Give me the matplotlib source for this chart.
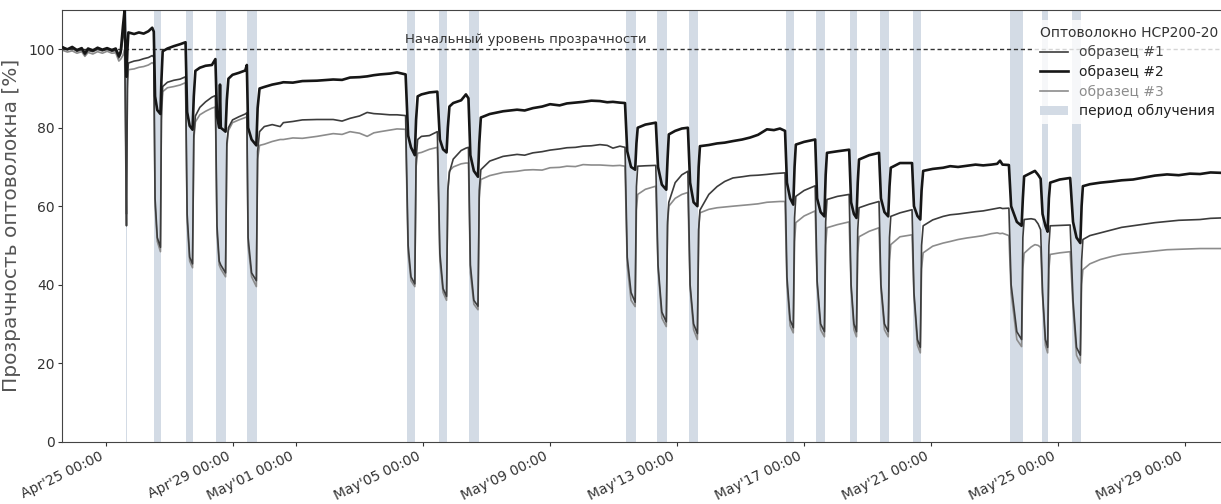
import pandas as pd
import matplotlib
matplotlib.use('Agg')
import matplotlib.pyplot as plt
import matplotlib.dates as mdates
from matplotlib.patches import Patch

# time axis: days from Apr 25 00:00 (same sampling for all samples)
t0 = pd.Timestamp('2021-04-25 00:00')
days = [
    -1.37, -1.20, -1.05, -0.90, -0.75, -0.65, -0.55, -0.40, -0.25, -0.10, 0.05, 0.20, 0.32, 0.42, 0.48,
    0.55, 0.60, 0.64, 0.66, 0.69, 0.72, 0.90, 1.05, 1.20, 1.35, 1.47, 1.52,
    1.56, 1.63, 1.73, 1.76, 1.80, 1.95, 2.15, 2.35, 2.52,
    2.57, 2.65, 2.74, 2.78, 2.83, 2.97, 3.15, 3.35, 3.46,
    3.51, 3.58, 3.605, 3.63, 3.78, 3.82, 3.87, 4.00, 4.20, 4.40, 4.45,
    4.49, 4.60, 4.75, 4.79, 4.85, 5.00, 5.25, 5.50, 5.60, 5.90, 6.20, 6.66, 7.17, 7.45, 7.70, 8.00,
    8.24, 8.45, 8.65, 8.95, 9.18, 9.45,
    9.53, 9.62, 9.74, 9.78, 9.83, 9.95, 10.20, 10.45,
    10.53, 10.63, 10.74, 10.78, 10.83, 10.95, 11.20, 11.35, 11.43,
    11.49, 11.60, 11.73, 11.77, 11.82, 12.10, 12.52, 12.96, 13.20, 13.46, 13.75, 14.00, 14.30, 14.53,
    14.80, 15.04, 15.30, 15.57, 15.80, 15.98, 16.20, 16.36,
    16.43, 16.55, 16.68, 16.72, 16.76, 17.00, 17.33,
    17.40, 17.52, 17.66, 17.70, 17.74, 17.94, 18.15, 18.34,
    18.41, 18.52, 18.64, 18.68, 18.72, 19.00, 19.26, 19.50, 19.76, 20.05, 20.30, 20.55, 20.83, 21.05,
    21.24, 21.40,
    21.46, 21.56, 21.66, 21.70, 21.74, 22.00, 22.35,
    22.41, 22.52, 22.64, 22.68, 22.72, 23.05, 23.42,
    23.48, 23.57, 23.65, 23.69, 23.73, 24.05, 24.36,
    24.42, 24.53, 24.65, 24.69, 24.73, 25.02, 25.40,
    25.46, 25.57, 25.66, 25.70, 25.75, 26.05, 26.38, 26.60, 26.85, 27.13, 27.40, 27.64, 27.90, 28.08,
    28.17, 28.25, 28.45,
    28.52, 28.70, 28.85, 28.89, 28.93, 29.15, 29.27, 29.37, 29.45,
    29.51, 29.60, 29.67, 29.71, 29.75, 30.05, 30.38,
    30.47, 30.58, 30.70, 30.74, 30.78, 31.00, 31.33, 31.70, 32.00, 32.36, 32.70, 33.05, 33.43, 33.80,
    34.15, 34.47, 34.80, 35.13,
]

sample1 = [
    100.8, 99.9, 100.3, 99.5, 99.9, 98.6, 99.7, 99.4, 100.0, 99.6, 100.0, 99.5, 99.7, 97.8, 98.8,
    103.0, 107.0, 70.0, 55.0, 92.0, 96.5, 97.0, 97.2, 97.6, 97.9, 98.4, 98.0,
    62.0, 52.0, 49.5, 84.0, 90.5, 91.6, 92.1, 92.4, 93.0,
    58.0, 47.0, 45.3, 78.0, 83.0, 85.2, 86.6, 87.8, 88.2,
    55.0, 46.0, 45.5, 45.0, 43.0, 76.0, 80.0, 82.0, 82.8, 83.5, 83.8,
    52.0, 43.0, 41.0, 74.0, 79.0, 80.3, 80.8, 80.3, 81.3, 81.6, 82.0, 82.1, 82.1, 81.7, 82.4, 83.0,
    83.9, 83.6, 83.5, 83.3, 83.3, 83.1,
    50.0, 42.0, 40.2, 72.0, 77.0, 77.8, 78.0, 79.0,
    48.0, 39.0, 37.0, 64.0, 68.6, 72.0, 74.2, 74.8, 75.0,
    45.0, 36.0, 34.5, 64.0, 69.3, 71.5, 72.7, 73.2, 73.0, 73.6, 73.9, 74.3, 74.6, 74.9,
    75.0, 75.3, 75.4, 75.7, 75.5, 74.8, 75.3, 75.0,
    47.0, 38.0, 35.5, 65.0, 70.2, 70.3, 70.4,
    45.0, 33.0, 30.5, 56.0, 61.0, 66.0, 68.0, 68.9,
    40.0, 30.0, 27.5, 54.0, 59.0, 63.0, 65.0, 66.3, 67.2, 67.5, 67.8, 67.9, 68.1, 68.3,
    68.4, 68.5,
    42.0, 31.0, 29.0, 57.0, 62.5, 64.0, 65.2,
    41.0, 30.0, 28.0, 56.0, 61.7, 62.5, 63.0,
    40.0, 30.0, 28.0, 54.0, 59.6, 60.5, 61.2,
    40.0, 30.0, 28.0, 52.0, 57.4, 58.3, 59.1,
    38.0, 26.0, 24.0, 50.0, 55.0, 56.5, 57.4, 57.8, 58.0, 58.3, 58.6, 58.8, 59.2, 59.5,
    59.6, 59.4, 59.5,
    40.0, 28.0, 26.0, 52.0, 56.6, 56.8, 56.6, 55.5, 54.0,
    38.0, 26.0, 24.0, 50.0, 55.0, 55.1, 55.2,
    36.0, 24.0, 22.0, 46.0, 51.5, 52.5, 53.2, 54.0, 54.6, 55.0, 55.4, 55.8, 56.1, 56.4,
    56.5, 56.6, 56.9, 57.0,
]

sample2 = [
    100.5, 100.0, 100.6, 99.8, 100.3, 99.0, 100.2, 99.7, 100.4, 99.9, 100.3, 99.8, 100.2, 98.3, 99.5,
    106.0, 110.0, 96.0, 93.0, 100.0, 104.3, 103.9, 104.3, 104.0, 104.6, 105.5, 104.5,
    88.0, 84.5, 83.5, 92.0, 99.5, 100.2, 100.8, 101.3, 101.8,
    84.0, 80.5, 79.5, 88.0, 94.5, 95.3, 95.8, 96.0, 97.5,
    83.0, 80.0, 91.0, 80.0, 79.0, 87.0, 92.5, 93.5, 94.0, 94.6, 96.0,
    80.0, 77.0, 75.5, 85.0, 90.0, 90.4, 91.0, 91.4, 91.6, 91.5, 91.9, 92.0, 92.3, 92.2, 92.8, 92.9,
    93.1, 93.4, 93.6, 93.8, 94.1, 93.6,
    78.0, 75.0, 73.0, 82.0, 88.0, 88.5, 89.0, 89.2,
    77.0, 74.5, 73.7, 80.0, 85.4, 86.3, 87.0, 88.5, 87.5,
    73.0, 69.0, 67.5, 76.0, 82.6, 83.5, 84.2, 84.6, 84.4, 85.0, 85.4, 86.0, 85.7, 86.2,
    86.4, 86.6, 86.9, 86.8, 86.5, 86.6, 86.4, 86.3,
    74.0, 70.0, 69.3, 76.0, 80.0, 80.8, 81.3,
    70.0, 65.5, 64.2, 72.0, 78.3, 79.2, 79.8, 80.0,
    66.0, 61.0, 60.0, 70.0, 75.3, 75.6, 76.0, 76.2, 76.6, 77.0, 77.5, 78.2, 79.6, 79.4,
    79.8, 79.2,
    66.0, 62.0, 60.4, 70.0, 75.7, 76.4, 77.0,
    62.0, 58.5, 57.4, 68.0, 73.6, 74.0, 74.4,
    61.0, 58.0, 57.0, 66.0, 71.9, 73.0, 73.6,
    62.0, 58.5, 57.4, 65.0, 69.8, 71.0, 71.0,
    60.0, 57.5, 56.6, 64.0, 69.0, 69.5, 69.8, 70.2, 70.0, 70.3, 70.6, 70.4, 70.6, 70.8,
    71.6, 70.6, 70.5,
    60.0, 56.0, 55.0, 62.0, 67.6, 68.5, 69.0, 68.0, 67.0,
    58.0, 55.0, 53.5, 62.0, 66.0, 66.8, 67.2,
    56.0, 52.0, 50.6, 60.0, 65.1, 65.6, 66.0, 66.3, 66.6, 66.8, 67.3, 67.8, 68.1, 67.9,
    68.3, 68.2, 68.6, 68.5,
]

sample3 = [
    99.8, 99.3, 99.6, 99.0, 99.4, 98.2, 99.2, 98.8, 99.4, 99.0, 99.5, 99.0, 99.1, 97.0, 97.5,
    98.5, 100.0, 75.0, 58.0, 90.0, 94.8, 95.0, 95.4, 95.6, 96.0, 96.6, 96.2,
    60.0, 51.0, 48.4, 82.0, 89.2, 90.2, 90.5, 90.9, 91.5,
    56.0, 46.0, 44.3, 77.0, 81.5, 83.3, 84.2, 85.0, 85.3,
    53.0, 45.0, 44.5, 44.0, 42.0, 75.0, 79.3, 81.3, 82.0, 82.6, 82.8,
    50.0, 42.0, 39.5, 72.0, 75.5, 75.8, 76.5, 77.0, 77.0, 77.4, 77.3, 77.8, 78.5, 78.3, 79.0, 78.6,
    77.8, 78.7, 79.0, 79.4, 79.7, 79.6,
    48.0, 41.0, 39.5, 70.0, 73.5, 73.7, 74.5, 75.0,
    46.0, 38.0, 36.0, 64.0, 69.0, 70.0, 70.8, 71.0, 71.0,
    43.0, 35.0, 33.6, 62.0, 66.8, 67.8, 68.6, 68.9, 69.2, 69.3, 69.2, 69.8, 69.9, 70.2,
    70.1, 70.6, 70.5, 70.5, 70.4, 70.3, 70.4, 70.2,
    45.0, 36.0, 34.4, 59.0, 63.0, 64.3, 65.1,
    44.0, 31.5, 29.3, 55.0, 60.0, 62.0, 63.0, 63.5,
    39.0, 28.5, 26.0, 54.0, 58.3, 59.2, 59.6, 59.8, 60.0, 60.2, 60.4, 60.6, 61.0, 61.1,
    61.2, 61.2,
    40.0, 29.5, 27.7, 51.0, 55.8, 57.5, 58.8,
    40.0, 28.5, 26.7, 50.0, 54.5, 55.3, 56.0,
    39.0, 28.5, 26.7, 48.0, 52.2, 53.6, 54.5,
    39.0, 28.5, 26.7, 46.0, 50.2, 52.2, 52.7,
    37.0, 24.5, 22.6, 44.0, 48.1, 49.8, 50.6, 51.0, 51.5, 51.9, 52.2, 52.5, 53.0, 53.2,
    53.0, 53.1, 52.5,
    38.0, 26.0, 24.2, 44.0, 48.0, 49.6, 50.2, 50.0, 49.5,
    37.0, 24.5, 22.6, 44.0, 47.7, 48.1, 48.4,
    34.0, 22.0, 20.0, 40.0, 43.8, 45.3, 46.4, 47.2, 47.7, 48.0, 48.3, 48.6, 48.9, 49.0,
    49.1, 49.2, 49.2, 49.2,
]

# irradiation periods, days from Apr 25 00:00
band_start = [0.63, 1.53, 2.54, 3.48, 4.46, 9.50, 10.50, 11.46, 16.40, 17.37,
              18.38, 21.43, 22.38, 23.45, 24.39, 25.43, 28.49, 29.48, 30.44]
band_end = [0.69, 1.75, 2.76, 3.80, 4.77, 9.76, 10.76, 11.75, 16.70, 17.68,
            18.66, 21.68, 22.66, 23.67, 24.67, 25.68, 28.88, 29.69, 30.72]

x_range = [-1.37, 35.13]
baseline = 100

assert len(days) == len(sample1) == len(sample2) == len(sample3)


def to_time(d):
    return t0 + pd.to_timedelta(d, unit='D')


times = to_time(pd.Series(days))

band_color = '#d3dbe5'
c1, c2, c3 = '#3c3c3c', '#161616', '#8c8c8c'

fig = plt.figure(figsize=(12.21, 5.04), dpi=100)
ax = fig.add_axes([0.0508, 0.124, 0.9492, 0.856])

for s, e in zip(band_start, band_end):
    ax.axvspan(to_time(s), to_time(e), color=band_color, lw=0, zorder=1)

ax.plot(times, sample1, color=c1, lw=1.2, zorder=3)
ax.plot(times, sample2, color=c2, lw=1.9, zorder=4)
ax.plot(times, sample3, color=c3, lw=1.2, zorder=2)

ax.axhline(baseline, ls=(0, (3, 2)), color='#333333', lw=1, zorder=2)
ax.text(to_time(13.24), baseline + 0.8, 'Начальный уровень прозрачности',
        ha='center', va='bottom', fontsize=9.5, color='#333333')

ax.set_xlim(to_time(x_range[0]), to_time(x_range[1]))
ax.set_ylim(0, 110)
ax.set_yticks([0, 20, 40, 60, 80, 100])
ax.set_ylabel('Прозрачность оптоволокна [%]', fontsize=14.5, color='#555555', labelpad=5)

ax.xaxis.set_major_locator(mdates.DayLocator(bymonthday=[1, 5, 9, 13, 17, 21, 25, 29]))
ax.xaxis.set_major_formatter(mdates.DateFormatter("%b'%d %H:%M"))
ax.tick_params(labelsize=10, colors='#333333', length=3, width=0.8, pad=2.5)
plt.setp(ax.get_xticklabels(), rotation=26, ha='right')

for side in ['left', 'bottom', 'top']:
    ax.spines[side].set_color('#444444')
    ax.spines[side].set_linewidth(0.8)
ax.spines['right'].set_visible(False)

handles = [
    plt.Line2D([], [], color=c1, lw=1.2),
    plt.Line2D([], [], color=c2, lw=1.9),
    plt.Line2D([], [], color=c3, lw=1.2),
    Patch(facecolor=band_color, edgecolor='none'),
]
labels = ['образец #1', 'образец #2', 'образец #3', 'период облучения']
leg = ax.legend(handles, labels, title='Оптоволокно HCP200-20', loc='upper right',
                bbox_to_anchor=(1.006, 0.986),
                fontsize=10, title_fontsize=10, frameon=True, edgecolor='none',
                facecolor='white', framealpha=0.8, borderaxespad=0.3,
                labelspacing=0.4, handlelength=2.0, alignment='left')
for txt, col in zip(leg.get_texts(), ['#444444', '#222222', '#8c8c8c', '#222222']):
    txt.set_color(col)
leg.get_title().set_color('#333333')
leg.set_zorder(5)

fig.savefig('out.png', dpi=100)
